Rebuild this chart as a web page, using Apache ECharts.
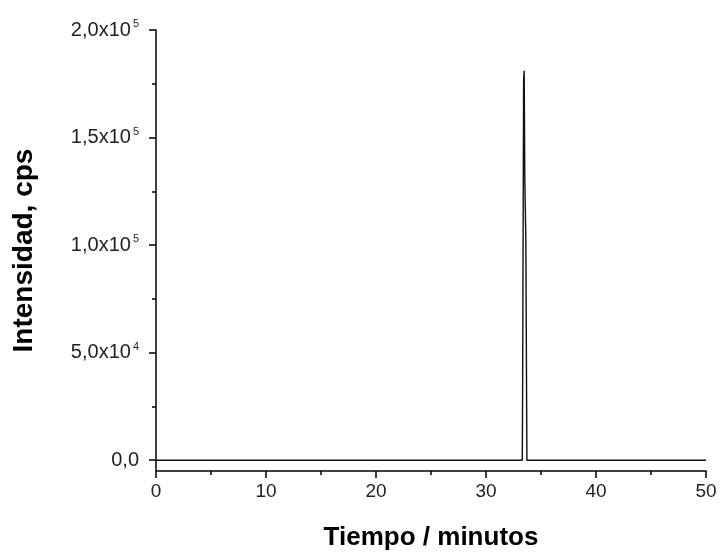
<!DOCTYPE html>
<html>
<head>
<meta charset="utf-8">
<script src="https://cdn.jsdelivr.net/npm/echarts@6/dist/echarts.min.js"></script>
<style>html,body{margin:0;padding:0;background:#fff}#c{width:723px;height:556px}</style>
</head>
<body>
<div id="c"></div>
<script>
// Data
const timeMin = [0, 33.30, 33.33, 33.36, 33.42, 33.47, 33.53, 33.62, 33.66, 33.72, 50];
const intensity = [0, 0, 34600, 35000, 177000, 181000, 130000, 103000, 103000, 0, 0];
const xTicks = [0, 10, 20, 30, 40, 50];
const yMajorTicks = [0, 50000, 100000, 150000, 200000];
const yMinorTicks = [25000, 75000, 125000, 175000];
const xTitle = 'Tiempo / minutos';
const yTitle = 'Intensidad, cps';

const FONT = '"Liberation Sans", Arial, sans-serif';

function fmtY(v) {
  if (v === 0) return '0,0';
  const exp = Math.floor(Math.log10(v));
  const mant = (v / Math.pow(10, exp)).toFixed(1).replace('.', ',');
  return mant + 'x10{s|' + exp + '}';
}

const chart = echarts.init(document.getElementById('c'), null, {renderer: 'canvas'});
chart.setOption({
  animation: false,
  backgroundColor: '#fff',
  grid: {left: 156, right: 17, top: 30, bottom: 82, containLabel: false},
  xAxis: {
    type: 'value', min: xTicks[0], max: xTicks[xTicks.length - 1], interval: 10,
    name: xTitle, nameLocation: 'middle', nameGap: 54,
    nameTextStyle: {fontFamily: FONT, fontWeight: 'bold', fontSize: 26, color: '#000'},
    axisLine: {show: true, onZero: false, lineStyle: {color: '#000', width: 1.5}},
    axisTick: {show: true, inside: false, length: 7, lineStyle: {color: '#000', width: 1.5}},
    minorTick: {show: true, splitNumber: 2, length: 4, lineStyle: {color: '#000', width: 1.5}},
    axisLabel: {fontFamily: FONT, fontSize: 19, color: '#222', margin: 11},
    splitLine: {show: false}
  },
  yAxis: [{
    type: 'value', min: -5000, max: 200000,
    name: yTitle, nameLocation: 'middle', nameGap: 118, nameRotate: 90,
    nameTextStyle: {fontFamily: FONT, fontWeight: 'bold', fontSize: 28, color: '#000'},
    axisLine: {show: true, onZero: false, lineStyle: {color: '#000', width: 1.5}},
    axisTick: {show: true, inside: false, length: 7, customValues: yMajorTicks, lineStyle: {color: '#000', width: 1.5}},
    axisLabel: {
      customValues: yMajorTicks, fontFamily: FONT, fontSize: 20, color: '#222', margin: 17,
      formatter: fmtY,
      rich: {s: {fontFamily: FONT, fontSize: 11, color: '#222', verticalAlign: 'top', padding: [0, 0, 12, 2]}}
    },
    splitLine: {show: false}
  }, {
    type: 'value', min: -5000, max: 200000, position: 'left',
    axisLine: {show: false},
    axisTick: {show: true, inside: false, length: 4, customValues: yMinorTicks, lineStyle: {color: '#000', width: 1.5}},
    axisLabel: {show: false},
    splitLine: {show: false}
  }],
  series: [{
    type: 'line', xAxisIndex: 0, yAxisIndex: 0,
    data: timeMin.map((t, i) => [t, intensity[i]]),
    showSymbol: false, symbol: 'none',
    lineStyle: {color: '#111', width: 1.4},
    clip: false
  }]
});
</script>
</body>
</html>
